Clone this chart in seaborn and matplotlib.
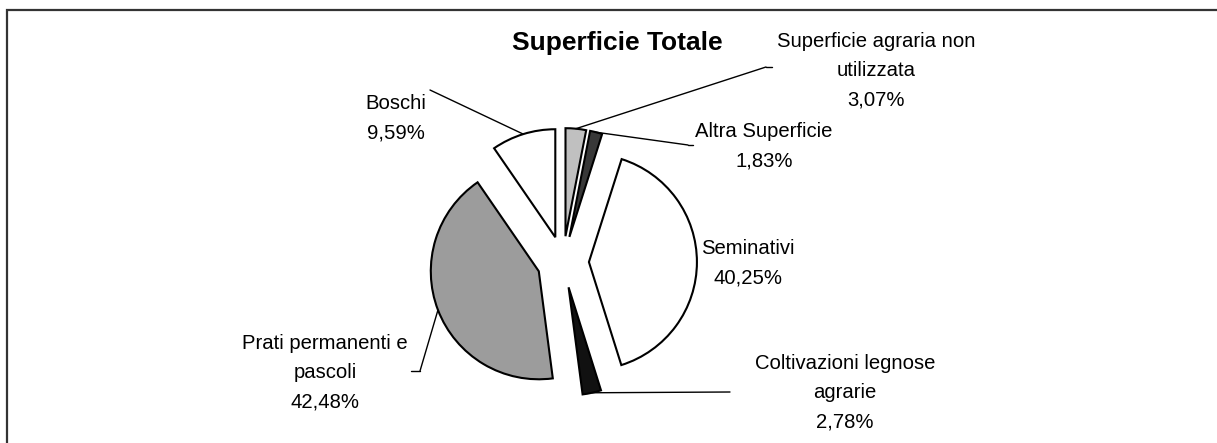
import numpy as np
import seaborn as sns
import matplotlib.pyplot as plt
from matplotlib.lines import Line2D
from matplotlib.patches import Rectangle

# data
categories = ["Superficie agraria non\nutilizzata", "Altra Superficie", "Seminativi",
              "Coltivazioni legnose\nagrarie", "Prati permanenti e\npascoli", "Boschi"]
shares     = [3.07, 1.83, 40.25, 2.78, 42.48, 9.59]
pct_labels = ["3,07%", "1,83%", "40,25%", "2,78%", "42,48%", "9,59%"]
title      = "Superficie Totale"

sns.set_theme(style="white")
plt.rcParams["font.family"] = ["Liberation Sans", "DejaVu Sans"]

W, H = 1217, 443
fig = plt.figure(figsize=(W / 100, H / 100), dpi=100)

def fx(x):
    return x / W

def fy(y):
    return 1 - y / H

# pie centre at (563, 262) px, radius 108 px -> axes 324 px square with +-1.5 limits
ax = fig.add_axes([fx(401), fy(262 + 162), 324 / W, 324 / H])

fills = ["#c0c0c0", "#383838", "#ffffff", "#111111", "#9c9c9c", "#ffffff"]
wedges, _ = ax.pie(shares, startangle=90, counterclock=False, colors=fills,
                   explode=[0.24] * len(shares), radius=1,
                   wedgeprops=dict(edgecolor="black", linewidth=1.5))
ax.set_xlim(-1.5, 1.5)
ax.set_ylim(-1.5, 1.5)
ax.axis("off")

# label block centres and leader line ends (px, from top-left)
label_pos = [(876, 71), (764, 146), (748, 263), (845, 393), (325, 373), (396, 118)]
leader_end = [[(766, 67), (772, 67)], [(688, 145), (693, 145)], None,
              [(730, 392)], [(420, 371), (411, 371)], [(430, 90)]]

for w, name, pct, (lx, ly), pts in zip(wedges, categories, pct_labels, label_pos, leader_end):
    fig.text(fx(lx), fy(ly), name + "\n" + pct, ha="center", va="center",
             multialignment="center", fontsize=14.6, linespacing=1.7, color="black")
    if pts is None:
        continue
    mid = np.deg2rad((w.theta1 + w.theta2) / 2)
    sx = w.center[0] + w.r * np.cos(mid)
    sy = w.center[1] + w.r * np.sin(mid)
    ex, ey = pts[0]
    ax.annotate("", xy=(sx, sy), xycoords="data", xytext=(fx(ex), fy(ey)),
                textcoords="figure fraction",
                arrowprops=dict(arrowstyle="-", lw=1.0, color="black", shrinkA=0, shrinkB=0))
    if len(pts) > 1:
        fig.add_artist(Line2D([fx(p[0]) for p in pts], [fy(p[1]) for p in pts],
                              transform=fig.transFigure, color="black", lw=1.0))

fig.text(fx(617), fy(43), title, ha="center", va="center", fontsize=19,
         fontweight="bold", color="black")

# chart area border, right and bottom sides fall outside the picture
fig.add_artist(Rectangle((fx(7), fy(460)), 1.1, (460 - 10) / H, transform=fig.transFigure,
                         fill=False, edgecolor="#333333", linewidth=1.6))

fig.savefig("out.png", dpi=100, facecolor="white")
